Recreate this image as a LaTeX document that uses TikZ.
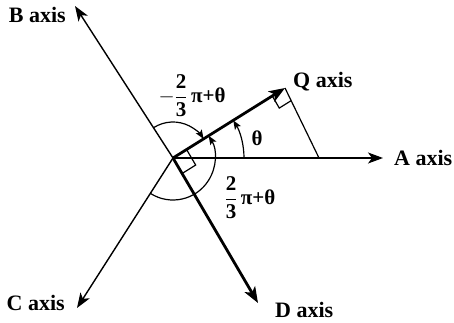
\documentclass[tikz,border=0pt]{standalone}
\usepackage{amsmath}
\usepackage{fontspec}
\setmainfont{Liberation Serif}
\usetikzlibrary{arrows.meta,positioning}

\begin{document}
\begin{tikzpicture}[x=1pt,y=1pt,
  axisline/.style={line width=1.4pt,-{Stealth[length=15pt,width=11pt,inset=4pt]}},
  heavyline/.style={line width=2.8pt,-{Stealth[length=16pt,width=12pt,inset=4pt]}},
  anglearc/.style={line width=1.2pt,-{Stealth[length=9pt,width=7pt,inset=2pt]}},
  thinline/.style={line width=1.2pt},
  axislabel/.style={font=\fontsize{22}{24}\selectfont\bfseries,inner sep=0pt},
  anglelabel/.style={font=\fontsize{21}{23}\selectfont\bfseries,inner sep=0pt}]
  \useasboundingbox (-173,-165) rectangle (281,158);

  % Origin and axis tips
  \coordinate (O) at (0,0);
  \coordinate (A) at (210,0);
  \coordinate (B) at (-98,152);
  \coordinate (C) at (-96,-150);
  \coordinate (D) at (85,-145);
  \coordinate (Q) at (112,70);
  \coordinate (F) at (146,0);

  % Projection of Q onto the A axis
  \draw[thinline] (Q) -- (F);
  \draw[thinline] (Q) ++(212:15) -- ++(-60:14) -- ++(32:14);

  % Stationary axes
  \draw[axisline] (O) -- (A);
  \draw[axisline] (O) -- (B);
  \draw[axisline] (O) -- (C);

  % Rotating axes
  \draw[heavyline] (O) -- (Q);
  \draw[heavyline] (O) -- (D);
  \draw[thinline] (O) ++(-59.6:18) -- ++(32:16) -- ++(120.4:18);

  % Angles
  \draw[anglearc] (O) ++(0:71) arc[start angle=0,end angle=32,radius=71];
  \draw[anglearc] (O) ++(122.8:36) arc[start angle=122.8,end angle=32,radius=36];
  \draw[anglearc] (O) ++(237.4:42) arc[start angle=237.4,end angle=392,radius=42];

  % Labels
  \node[axislabel,anchor=west] (Alab) at (221,0) {A axis};
  \node[axislabel,anchor=east] (Blab) at (-107,143) {B axis};
  \node[axislabel,anchor=east] (Clab) at (-108,-145) {C axis};
  \node[axislabel,anchor=west] (Dlab) at (102,-152) {D axis};
  \node[axislabel,anchor=west] (Qlab) at (120,76) {Q axis};
  \node[anglelabel] (th) at (84,20) {θ};
  \node[anglelabel] (neg) at (19,62) {$-\dfrac{\text{2}}{\text{3}}$\,π+θ};
  \node[anglelabel] (pos) at (77,-40) {$\dfrac{\text{2}}{\text{3}}$\,π+θ};
\end{tikzpicture}
\end{document}
